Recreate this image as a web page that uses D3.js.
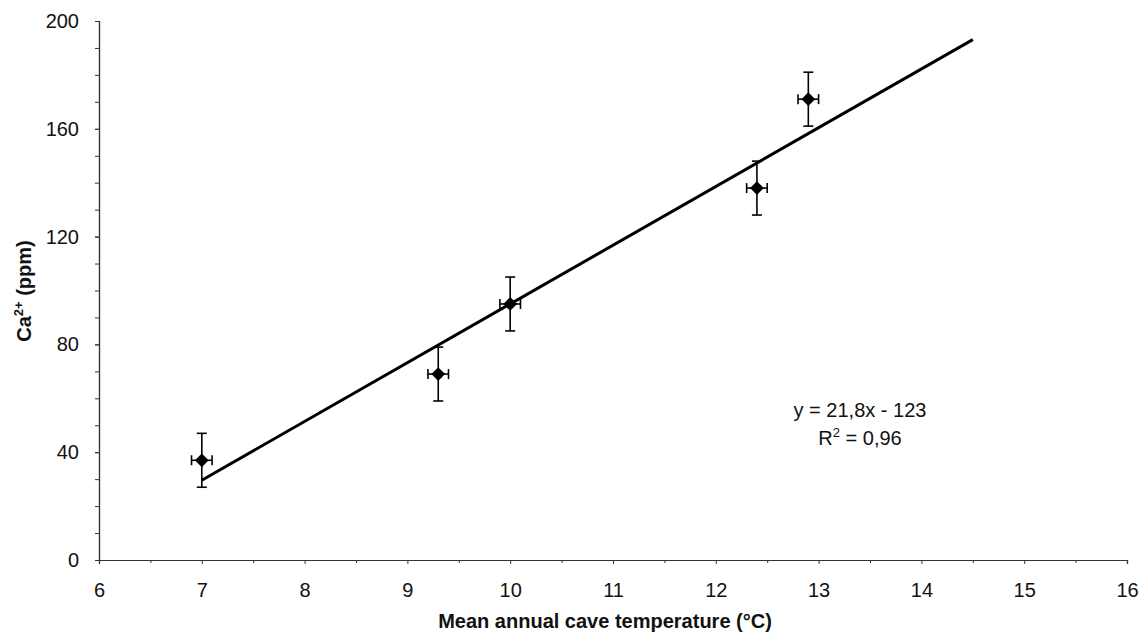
<!DOCTYPE html>
<html>
<head>
<meta charset="utf-8">
<script src="https://cdn.jsdelivr.net/npm/d3@7"></script>
<style>
  body { margin: 0; background: #fff; }
  text { font-family: "Liberation Sans", Arial, sans-serif; fill: #111; }
</style>
</head>
<body>
<svg id="chart" width="1147" height="640"></svg>
<script>
// measured points (temperature, Ca2+)
var temps = [7, 9.3, 10, 12.4, 12.9];
var calcium = [37, 69, 95, 138, 171];
var tempErr = [0.1, 0.1, 0.1, 0.1, 0.1];
var caErr = [10, 10, 10, 10, 10];

var xTicks = [6, 7, 8, 9, 10, 11, 12, 13, 14, 15, 16];
var yTicks = [0, 40, 80, 120, 160, 200];

// linear fit
var slope = 21.8, intercept = -123;
var fitRange = [7, 14.5];

var svg = d3.select("#chart");
var x = d3.scaleLinear().domain([6, 16]).range([99, 1127]);
var y = d3.scaleLinear().domain([0, 200]).range([560, 21]);

// axes
var xAxis = svg.append("g").attr("transform", "translate(0,560)")
  .call(d3.axisBottom(x).tickValues(xTicks).tickSize(4).tickPadding(19));
var xMinor = svg.append("g").attr("transform", "translate(0,560)")
  .call(d3.axisBottom(x).tickValues(d3.range(6.5, 16, 1)).tickSize(3).tickFormat(""));
var yAxis = svg.append("g").attr("transform", "translate(99,0)")
  .call(d3.axisLeft(y).tickValues(yTicks).tickSize(4).tickPadding(16));
var yMinor = svg.append("g").attr("transform", "translate(99,0)")
  .call(d3.axisLeft(y).tickValues(d3.range(10, 200, 10)).tickSize(4).tickFormat(""));

[xAxis, xMinor, yAxis, yMinor].forEach(function(g) {
  g.selectAll("path").attr("stroke", "#333").attr("stroke-width", 1.2);
  g.selectAll("line").attr("stroke", "#333");
  g.selectAll("text").style("font-size", "20px").attr("fill", "#111");
});

// axis titles
svg.append("text")
  .attr("x", 605).attr("y", 628)
  .attr("text-anchor", "middle")
  .style("font-size", "20px").style("font-weight", "bold")
  .text("Mean annual cave temperature (°C)");

var ylab = svg.append("text")
  .attr("transform", "translate(31,291) rotate(-90)")
  .attr("text-anchor", "middle")
  .style("font-size", "20px").style("font-weight", "bold");
ylab.append("tspan").text("Ca");
ylab.append("tspan").attr("dy", -8).style("font-size", "13px").text("2+");
ylab.append("tspan").attr("dy", 8).text(" (ppm)");

// trend line
svg.append("line")
  .attr("x1", x(fitRange[0])).attr("y1", y(slope * fitRange[0] + intercept))
  .attr("x2", x(fitRange[1])).attr("y2", y(slope * fitRange[1] + intercept))
  .attr("stroke", "#000").attr("stroke-width", 3);

// error bars
var pts = temps.map(function(t, i) {
  return { t: t, ca: calcium[i], dt: tempErr[i], dca: caErr[i] };
});
var eb = svg.append("g").attr("stroke", "#000").attr("stroke-width", 1.6);
pts.forEach(function(d) {
  var cx = x(d.t), cy = y(d.ca);
  var x0 = x(d.t - d.dt), x1 = x(d.t + d.dt);
  var y0 = y(d.ca - d.dca), y1 = y(d.ca + d.dca);
  eb.append("line").attr("x1", cx).attr("x2", cx).attr("y1", y0).attr("y2", y1);
  eb.append("line").attr("x1", cx - 5).attr("x2", cx + 5).attr("y1", y0).attr("y2", y0);
  eb.append("line").attr("x1", cx - 5).attr("x2", cx + 5).attr("y1", y1).attr("y2", y1);
  eb.append("line").attr("x1", x0).attr("x2", x1).attr("y1", cy).attr("y2", cy);
  eb.append("line").attr("x1", x0).attr("x2", x0).attr("y1", cy - 5).attr("y2", cy + 5);
  eb.append("line").attr("x1", x1).attr("x2", x1).attr("y1", cy - 5).attr("y2", cy + 5);
});

// diamond markers
svg.selectAll("path.pt").data(pts).enter().append("path")
  .attr("class", "pt")
  .attr("d", d3.symbol().type(d3.symbolDiamond2).size(120))
  .attr("transform", function(d) { return "translate(" + x(d.t) + "," + y(d.ca) + ")"; })
  .attr("fill", "#000");

// equation
svg.append("text")
  .attr("x", 860).attr("y", 417).attr("text-anchor", "middle")
  .style("font-size", "20px")
  .text("y = 21,8x - 123");
var r2 = svg.append("text")
  .attr("x", 860).attr("y", 445).attr("text-anchor", "middle")
  .style("font-size", "20px");
r2.append("tspan").text("R");
r2.append("tspan").attr("dy", -8).style("font-size", "13px").text("2");
r2.append("tspan").attr("dy", 8).text(" = 0,96");
</script>
</body>
</html>
